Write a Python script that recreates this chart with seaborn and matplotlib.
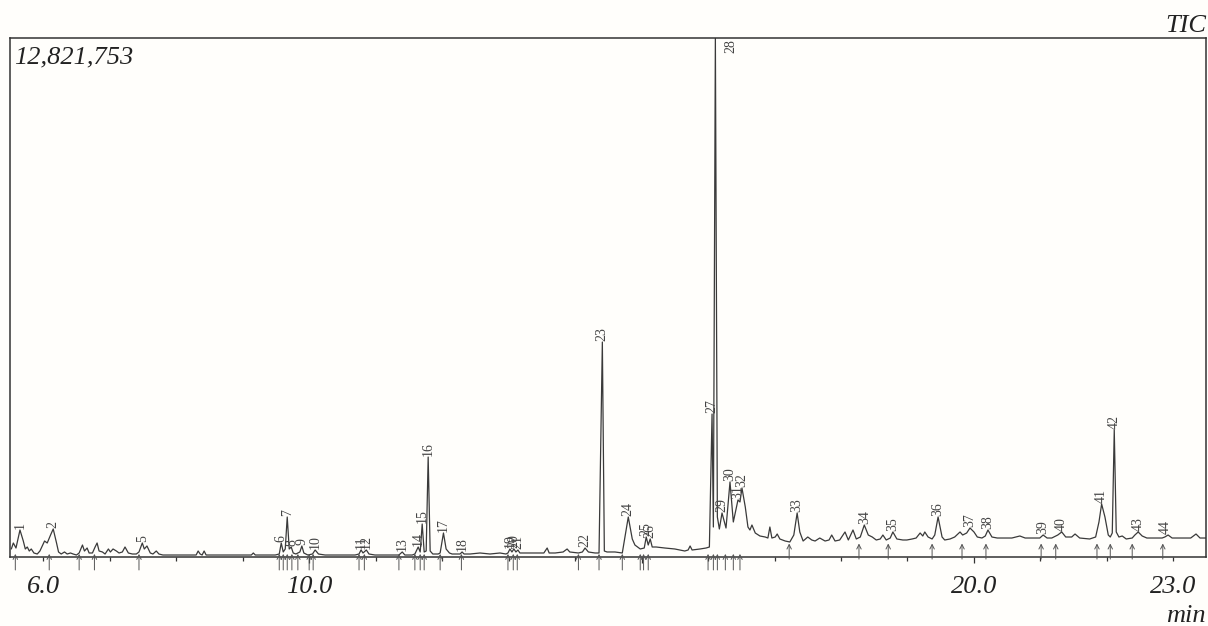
import numpy as np
import pandas as pd
import matplotlib
matplotlib.use("Agg")
import matplotlib.pyplot as plt
import seaborn as sns

# ---------------- data ----------------
# retention time (min)
trace_time = [
    5.52, 5.55, 5.59, 5.65, 5.70, 5.73, 5.76, 5.79, 5.82, 5.86, 5.91, 5.95,
    6.02, 6.06, 6.11, 6.15, 6.20, 6.23, 6.27, 6.32, 6.36, 6.41, 6.45, 6.50,
    6.54, 6.59, 6.62, 6.66, 6.69, 6.74, 6.78, 6.81, 6.84, 6.89, 6.93, 6.98,
    7.01, 7.05, 7.10, 7.14, 7.19, 7.23, 7.28, 7.34, 7.40, 7.44, 7.49, 7.52,
    7.56, 7.61, 7.65, 7.70, 7.74, 7.80, 7.91, 8.06, 8.21, 8.30, 8.33, 8.36,
    8.39, 8.42, 8.45, 8.59, 8.81, 9.04, 9.13, 9.16, 9.19, 9.34, 9.49, 9.55,
    9.58, 9.61, 9.64, 9.67, 9.70, 9.73, 9.76, 9.80, 9.86, 9.89, 9.92, 9.98,
    10.05, 10.09, 10.14, 10.24, 10.47, 10.69, 10.75, 10.78, 10.81, 10.86, 10.90, 10.99,
    11.22, 11.35, 11.40, 11.44, 11.55, 11.59, 11.64, 11.67, 11.70, 11.73, 11.76, 11.79,
    11.82, 11.86, 11.94, 11.97, 12.02, 12.06, 12.11, 12.15, 12.24, 12.27, 12.30, 12.33,
    12.42, 12.57, 12.72, 12.87, 12.96, 12.99, 13.02, 13.05, 13.08, 13.11, 13.14, 13.17,
    13.25, 13.40, 13.53, 13.58, 13.61, 13.70, 13.82, 13.88, 13.92, 14.05, 14.11, 14.15,
    14.20, 14.30, 14.36, 14.41, 14.44, 14.48, 14.60, 14.71, 14.80, 14.86, 14.90, 14.98,
    15.04, 15.07, 15.10, 15.13, 15.16, 15.22, 15.35, 15.50, 15.65, 15.70, 15.73, 15.76,
    15.88, 15.97, 16.02, 16.06, 16.08, 16.11, 16.14, 16.17, 16.21, 16.27, 16.33, 16.38,
    16.45, 16.48, 16.51, 16.56, 16.60, 16.63, 16.66, 16.71, 16.78, 16.86, 16.90, 16.93,
    16.96, 17.01, 17.04, 17.08, 17.16, 17.23, 17.29, 17.34, 17.38, 17.43, 17.50, 17.56,
    17.61, 17.68, 17.76, 17.82, 17.86, 17.91, 17.98, 18.06, 18.11, 18.18, 18.23, 18.29,
    18.35, 18.41, 18.47, 18.53, 18.59, 18.63, 18.68, 18.74, 18.78, 18.84, 18.93, 18.99,
    19.07, 19.13, 19.19, 19.23, 19.26, 19.31, 19.37, 19.41, 19.46, 19.52, 19.56, 19.64,
    19.71, 19.79, 19.83, 19.89, 19.94, 20.00, 20.05, 20.12, 20.17, 20.21, 20.27, 20.35,
    20.47, 20.57, 20.69, 20.77, 20.89, 20.99, 21.04, 21.10, 21.17, 21.26, 21.32, 21.38,
    21.47, 21.52, 21.59, 21.74, 21.83, 21.88, 21.92, 21.97, 22.02, 22.05, 22.08, 22.11,
    22.14, 22.18, 22.23, 22.29, 22.38, 22.42, 22.47, 22.53, 22.60, 22.68, 22.77, 22.83,
    22.87, 22.92, 22.98, 23.07, 23.17, 23.26, 23.34, 23.40, 23.49,
]
# TIC intensity (thousand counts)
trace_kcounts = [
    198, 346, 222, 667, 395, 198, 247, 148, 198, 99, 74, 148,
    395, 346, 543, 692, 346, 124, 74, 124, 74, 99, 74, 49,
    99, 296, 148, 222, 99, 99, 247, 346, 148, 124, 74, 198,
    124, 198, 148, 99, 124, 247, 99, 74, 74, 124, 346, 198,
    272, 99, 74, 148, 74, 49, 49, 49, 49, 49, 148, 74,
    49, 148, 49, 49, 49, 49, 49, 99, 49, 49, 49, 74,
    346, 124, 198, 988, 198, 247, 99, 74, 124, 272, 99, 49,
    74, 173, 74, 49, 49, 49, 74, 173, 99, 173, 74, 49,
    49, 49, 124, 49, 49, 74, 247, 124, 815, 124, 148, 2470,
    148, 74, 74, 99, 593, 198, 99, 74, 74, 74, 124, 74,
    74, 99, 74, 99, 74, 99, 198, 124, 198, 124, 173, 99,
    99, 99, 99, 222, 99, 99, 124, 198, 124, 99, 124, 222,
    124, 99, 99, 5311, 148, 124, 124, 99, 988, 445, 296, 198,
    222, 494, 296, 445, 247, 247, 222, 198, 148, 173, 272, 173,
    198, 222, 247, 3532, 741, 12822, 988, 692, 1087, 716, 1853, 865,
    1408, 1359, 1704, 1235, 741, 667, 790, 593, 519, 494, 469, 741,
    469, 494, 568, 445, 395, 371, 543, 1087, 618, 395, 494, 420,
    395, 469, 395, 420, 543, 395, 420, 618, 420, 667, 445, 494,
    790, 543, 494, 420, 445, 543, 420, 469, 618, 445, 420, 420,
    445, 469, 593, 519, 618, 494, 445, 543, 988, 494, 420, 445,
    494, 618, 543, 593, 716, 618, 494, 469, 519, 667, 494, 469,
    469, 469, 519, 469, 469, 469, 543, 469, 469, 543, 618, 494,
    494, 568, 469, 445, 494, 865, 1309, 988, 543, 494, 593, 3137,
    618, 494, 519, 445, 469, 543, 618, 519, 469, 469, 469, 469,
    494, 543, 469, 469, 469, 469, 568, 469, 469,
]
full_scale = 12821.753  # thousand counts (12,821,753)

peak_ids = [1, 2, 5, 6, 7, 8, 9, 10, 11, 12, 13, 14, 15, 16, 17, 18, 19, 20, 21, 22,
            23, 24, 25, 26, 27, 28, 29, 30, 31, 32, 33, 34, 35, 36, 37, 38, 39, 40,
            41, 42, 43, 44]
peak_rt = [5.65, 6.15, 7.49, 9.58, 9.67, 9.74, 9.89, 10.09, 10.78, 10.86, 11.40, 11.64,
           11.70, 11.79, 12.02, 12.30, 13.02, 13.08, 13.14, 14.15, 14.41, 14.80, 15.07,
           15.13, 16.06, 16.11, 16.21, 16.33, 16.45, 16.51, 17.34, 18.35, 18.78, 19.46,
           19.94, 20.21, 21.04, 21.32, 21.92, 22.11, 22.47, 22.87]
peak_kcounts = [667, 692, 346, 346, 988, 247, 272, 173, 173, 173, 124, 247, 815, 2470,
                593, 124, 198, 198, 173, 222, 5311, 988, 494, 445, 3532, 12822, 1087,
                1853, 1408, 1704, 1087, 790, 618, 988, 716, 667, 543, 618, 1309, 3137,
                618, 543]

# integration start marks
start_marks_low = [5.58, 6.09, 6.54, 6.77, 7.44, 9.55, 9.61, 9.67, 9.74, 9.83, 10.00,
                   10.06, 10.75, 10.83, 11.35, 11.59, 11.67, 11.73, 11.97, 12.29, 12.99,
                   13.07, 13.13, 14.05, 14.36, 14.71, 14.98, 15.03, 15.10, 16.00, 16.08,
                   16.14, 16.26, 16.38, 16.48]
start_marks_high = [17.22, 18.27, 18.71, 19.37, 19.82, 20.18, 21.01, 21.23, 21.85,
                    22.05, 22.38, 22.84]

tick_minutes = list(range(6, 24))
tick_labels_shown = {6: "6.0", 10: "10.0", 20: "20.0", 23: "23.0"}

# ---------------- styling ----------------
sns.set_theme(style="white")
plt.rcParams["font.family"] = ["Liberation Serif", "DejaVu Serif"]
bg = "#fffefb"
ink = "#333333"

fig = plt.figure(figsize=(12.08, 6.26), dpi=100, facecolor=bg)
W, H = 1208, 626
ax = fig.add_axes([10 / W, (H - 557) / H, 1196 / W, 519 / H], facecolor=bg)

df = pd.DataFrame({"time": trace_time, "intensity": trace_kcounts})
sns.lineplot(data=df, x="time", y="intensity", ax=ax, color="#3a3a3a",
             linewidth=0.9, estimator=None, sort=False)

ax.set_xlim(5.50, 23.49)
ax.set_ylim(0, full_scale)
ax.set_xlabel("")
ax.set_ylabel("")
ax.set_yticks([])

ax.set_xticks(tick_minutes)
ax.set_xticklabels([tick_labels_shown.get(m, "") for m in tick_minutes],
                   fontsize=19, style="italic", color="#222222")
ax.tick_params(axis="x", direction="out", length=3, width=0.9, color=ink, pad=11,
               bottom=True)
for t in ax.xaxis.get_major_ticks():
    if t.get_loc() in (10, 15, 20):
        t.tick1line.set_markersize(4.5)

for s in ax.spines.values():
    s.set_visible(True)
    s.set_color(ink)
    s.set_linewidth(1.1)

# peak labels
for pid, rt, h in zip(peak_ids, peak_rt, peak_kcounts):
    if h >= full_scale:
        ax.annotate(str(pid), xy=(rt, full_scale), xytext=(11, -1),
                    textcoords="offset points", rotation=90, ha="center", va="top",
                    fontsize=10, color="#444444")
    else:
        ax.annotate(str(pid), xy=(rt, h), xytext=(0, 1), textcoords="offset points",
                    rotation=90, ha="center", va="bottom", fontsize=10,
                    color="#444444")

# integration start arrows
xtr = ax.get_xaxis_transform()
arrow_kw = dict(arrowstyle="-|>", lw=0.7, color="#555555", mutation_scale=6,
                shrinkA=0, shrinkB=0, fill=False)
for rt in start_marks_low:
    ax.annotate("", xy=(rt, 0.006), xycoords=xtr, xytext=(rt, -0.025), textcoords=xtr,
                arrowprops=dict(arrowstyle="->", lw=0.7, color="#555555",
                                mutation_scale=8, shrinkA=0, shrinkB=0),
                annotation_clip=False)
for rt in start_marks_high:
    ax.annotate("", xy=(rt, 0.026), xycoords=xtr, xytext=(rt, -0.004), textcoords=xtr,
                arrowprops=dict(arrowstyle="->", lw=0.7, color="#555555",
                                mutation_scale=8, shrinkA=0, shrinkB=0),
                annotation_clip=False)

# texts
ax.text(4 / 1196, (557 - 63) / 519, "12,821,753", transform=ax.transAxes,
        fontsize=19, style="italic", color="#222222", ha="left", va="baseline")
fig.text(1206 / W, 1 - 32 / H, "TIC", fontsize=19, style="italic", color="#222222",
         ha="right", va="baseline")
fig.text(1206 / W, 1 - 622 / H, "min", fontsize=19, style="italic", color="#222222",
         ha="right", va="baseline")

fig.savefig("out.png", dpi=100, facecolor=bg)
